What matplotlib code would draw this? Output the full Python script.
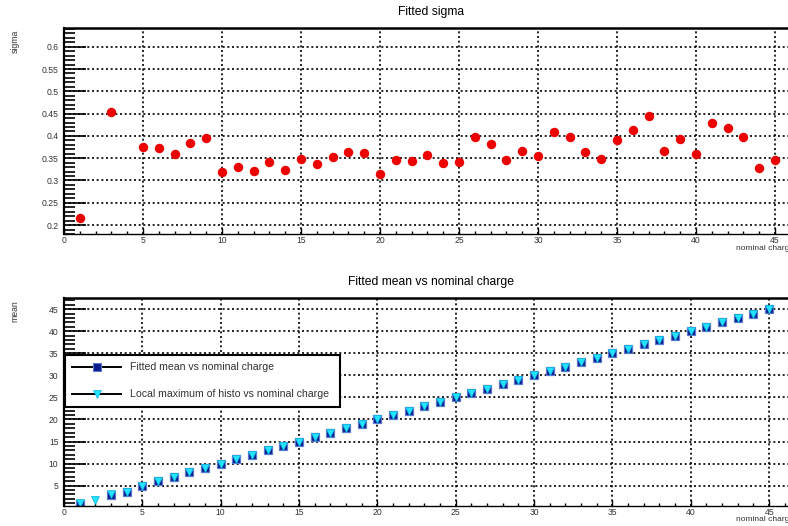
import matplotlib
matplotlib.use('Agg')
import matplotlib.pyplot as plt
from matplotlib.lines import Line2D
from matplotlib.ticker import MultipleLocator, FormatStrFormatter

plt.rcParams['font.family'] = ['Liberation Sans', 'DejaVu Sans']

# fitted sigma per nominal charge (no fit at 2 and 4)
sigma_charge = [1, 3, 5, 6, 7, 8, 9, 10, 11, 12, 13, 14, 15, 16, 17, 18, 19, 20,
                21, 22, 23, 24, 25, 26, 27, 28, 29, 30, 31, 32, 33, 34, 35, 36,
                37, 38, 39, 40, 41, 42, 43, 44, 45]
sigma = [0.216, 0.454, 0.374, 0.373, 0.359, 0.383, 0.396, 0.320, 0.330, 0.322,
         0.341, 0.324, 0.348, 0.337, 0.352, 0.364, 0.361, 0.314, 0.346, 0.343,
         0.357, 0.340, 0.341, 0.398, 0.381, 0.346, 0.367, 0.354, 0.409, 0.398,
         0.364, 0.349, 0.390, 0.414, 0.444, 0.367, 0.392, 0.359, 0.429, 0.418,
         0.397, 0.329, 0.346]

# fitted mean per nominal charge (no fit at 2)
mean_charge = [1, 3, 4, 5, 6, 7, 8, 9, 10, 11, 12, 13, 14, 15, 16, 17, 18, 19, 20,
               21, 22, 23, 24, 25, 26, 27, 28, 29, 30, 31, 32, 33, 34, 35, 36, 37,
               38, 39, 40, 41, 42, 43, 44, 45]
fitted_mean = [0.94, 2.86, 3.5, 5.0, 6.0, 7.0, 8.0, 9.0, 10.0, 11.0, 12.0, 13.0,
               14.0, 15.0, 16.0, 17.0, 18.0, 19.0, 20.0, 21.0, 22.0, 23.0, 24.0,
               25.0, 26.0, 27.0, 28.0, 29.0, 30.0, 31.0, 32.0, 33.0, 34.0, 35.0,
               36.0, 37.0, 38.0, 39.0, 40.0, 41.0, 42.0, 43.0, 44.0, 45.0]

# local maximum of histo per nominal charge
max_charge = [1, 2, 3, 4, 5, 6, 7, 8, 9, 10, 11, 12, 13, 14, 15, 16, 17, 18, 19, 20,
              21, 22, 23, 24, 25, 26, 27, 28, 29, 30, 31, 32, 33, 34, 35, 36, 37,
              38, 39, 40, 41, 42, 43, 44, 45]
local_max = [1.0, 1.7, 3.0, 3.6, 5.0, 6.0, 7.0, 8.0, 9.0, 10.0, 11.0, 12.0, 13.0,
             14.0, 15.0, 16.0, 17.0, 18.0, 19.0, 20.0, 21.0, 22.0, 23.0, 24.0,
             25.0, 26.0, 27.0, 28.0, 29.0, 30.0, 31.0, 32.0, 33.0, 34.0, 35.0,
             36.0, 37.0, 38.0, 39.0, 40.0, 41.0, 42.0, 43.0, 44.0, 45.0]

W, H = 788, 526
fig = plt.figure(figsize=(W / 100, H / 100), dpi=100)

SQ_FACE = '#0b1a8a'
SQ_EDGE = '#5a78d0'
TRI_FACE = '#22e4ff'
TRI_EDGE = '#10b0e0'


def style_axes(ax, major_y, minor_y, fmt):
    ax.set_xlim(0, 47)
    ax.xaxis.set_major_locator(MultipleLocator(5))
    ax.xaxis.set_minor_locator(MultipleLocator(1))
    ax.yaxis.set_major_locator(MultipleLocator(major_y))
    ax.yaxis.set_minor_locator(MultipleLocator(minor_y))
    ax.yaxis.set_major_formatter(FormatStrFormatter(fmt))
    ax.tick_params(axis='both', which='both', direction='in', labelsize=6.2,
                   labelcolor='#333333', color='black')
    ax.tick_params(axis='y', which='major', length=15.5, width=1.2, pad=4)
    ax.tick_params(axis='y', which='minor', length=7.8, width=1.2)
    ax.tick_params(axis='x', which='major', length=4.5, width=1.0, pad=1.5)
    ax.tick_params(axis='x', which='minor', length=2.2, width=1.0)
    ax.grid(True, which='major', color='black', linestyle=(0, (1.2, 1.6)), linewidth=1.2)
    ax.set_axisbelow(True)
    ax.spines['right'].set_visible(False)
    ax.spines['left'].set_linewidth(1.6)
    ax.spines['top'].set_linewidth(1.8)
    ax.spines['bottom'].set_linewidth(1.0)


# top panel: fitted sigma
ax1 = fig.add_axes([64 / W, 1 - 234 / H, 742.6 / W, 206 / H])
ax1.plot(sigma_charge, sigma, 'o', color='#ee0000', markersize=6.8,
         markeredgewidth=0, clip_on=True)
ax1.set_ylim(0.18, 0.642)
style_axes(ax1, 0.05, 0.01, '%g')
fig.text(431 / W, 1 - 12 / H, 'Fitted sigma', ha='center', va='center', fontsize=8.7)
fig.text(15 / W, 1 - 30 / H, 'sigma', rotation=90, ha='center', va='top',
         fontsize=6.2, color='#333333')
fig.text(736 / W, 1 - 245 / H, 'nominal charge', ha='left', va='top',
         fontsize=6, color='#333333')

# bottom panel: fitted mean and local maximum
ax2 = fig.add_axes([64 / W, 1 - 505.5 / H, 736.5 / W, 207.8 / H])
ax2.plot(mean_charge, fitted_mean, 's', markersize=6.4, markerfacecolor=SQ_FACE,
         markeredgecolor=SQ_EDGE, markeredgewidth=0.9)
ax2.plot(max_charge, local_max, 'v', markersize=5.8, markerfacecolor=TRI_FACE,
         markeredgecolor=TRI_EDGE, markeredgewidth=0.5)
ax2.set_ylim(0.5, 47.6)
style_axes(ax2, 5, 1, '%g')
fig.text(431 / W, 1 - 282 / H, 'Fitted mean vs nominal charge', ha='center',
         va='center', fontsize=8.7)
fig.text(15 / W, 1 - 300 / H, 'mean', rotation=90, ha='center', va='top',
         fontsize=6.2, color='#333333')
fig.text(736 / W, 1 - 516 / H, 'nominal charge', ha='left', va='top',
         fontsize=6, color='#333333')

handles = [
    Line2D([], [], color='black', linewidth=1.4, marker='s', markersize=5.6,
           markerfacecolor=SQ_FACE, markeredgecolor=SQ_EDGE, markeredgewidth=0.8),
    Line2D([], [], color='black', linewidth=1.4, marker='v', markersize=5.4,
           markerfacecolor=TRI_FACE, markeredgecolor=TRI_EDGE, markeredgewidth=0.5),
]
labels = ['Fitted mean vs nominal charge', 'Local maximum of histo vs nominal charge']
leg = ax2.legend(handles, labels, loc='upper left', mode='expand',
                 bbox_to_anchor=(65 / W, 1 - 409 / H, 275 / W, 54 / H),
                 bbox_transform=fig.transFigure, borderaxespad=0, fontsize=7.6,
                 handlelength=4.6, handletextpad=0.85, labelspacing=1.6,
                 borderpad=0.7, fancybox=False, framealpha=1, edgecolor='black',
                 labelcolor='#333333')
leg.get_frame().set_linewidth(1.5)

fig.savefig('out.png', dpi=100)
